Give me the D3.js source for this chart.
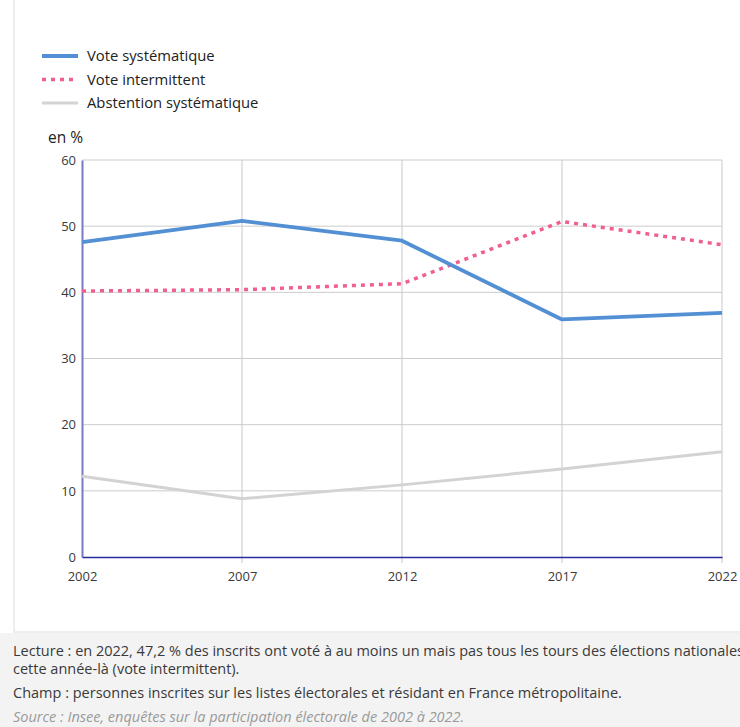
<!DOCTYPE html>
<html>
<head>
<meta charset="utf-8">
<script src="https://cdn.jsdelivr.net/npm/d3@7"></script>
<style>
  body { margin: 0; width: 740px; height: 727px; overflow: hidden; background: #fff; font-family: "Open Sans", sans-serif; }
  .card { position: absolute; left: 13px; top: 0; width: 760px; height: 631px; border-left: 2px solid #eeeeee; border-bottom: 2px solid #eeeeee; background: #fff; }
  .foot { position: absolute; left: 0; top: 633px; width: 740px; height: 94px; background: #f3f3f3; color: #3a3a3a; font-size: 14.5px; white-space: nowrap; overflow: hidden; }
  .foot p { margin: 0; position: absolute; left: 13px; }
  .foot .src { font-style: italic; color: #9a9a9a; }
  svg { position: absolute; left: 0; top: 0; }
</style>
</head>
<body>
<div class="card"></div>
<div class="foot">
  <p style="top:8px">Lecture : en 2022, 47,2 % des inscrits ont voté à au moins un mais pas tous les tours des élections nationales</p>
  <p style="top:26px">cette année-là (vote intermittent).</p>
  <p style="top:50px">Champ : personnes inscrites sur les listes électorales et résidant en France métropolitaine.</p>
  <p class="src" style="top:74px">Source : Insee, enquêtes sur la participation électorale de 2002 à 2022.</p>
</div>
<svg id="chart" width="740" height="630"></svg>
<script>
// data
var years = [2002, 2007, 2012, 2017, 2022];
var voteSystematique = [47.6, 50.8, 47.8, 35.9, 36.9];
var voteIntermittent = [40.2, 40.4, 41.3, 50.7, 47.2];
var abstention = [12.2, 8.8, 10.9, 13.3, 15.9];
var yTicks = [0, 10, 20, 30, 40, 50, 60];

var series = [
  { name: "Abstention systématique", values: abstention, color: "#d3d3d3", width: 3, dash: null },
  { name: "Vote intermittent", values: voteIntermittent, color: "#ef5f8f", width: 3.5, dash: "4,5" },
  { name: "Vote systématique", values: voteSystematique, color: "#5290d3", width: 3.8, dash: null }
];
var legendOrder = [series[2], series[1], series[0]];

var margin = { top: 160, left: 82 };
var width = 640;
var height = 397;

var svg = d3.select("#chart");
var chartGroup = svg.append("g")
  .attr("transform", `translate(${margin.left}, ${margin.top})`);

var x = d3.scalePoint().domain(years).range([0, width]);
var y = d3.scaleLinear().domain([0, 60]).range([height, 0]);

// horizontal grid
chartGroup.append("g")
  .selectAll("line")
  .data(yTicks.slice(1))
  .enter()
  .append("line")
  .attr("x1", 0)
  .attr("x2", width)
  .attr("y1", d => y(d))
  .attr("y2", d => y(d))
  .attr("stroke", "#cccccc")
  .attr("stroke-width", 1);

// vertical grid
chartGroup.append("g")
  .selectAll("line")
  .data(years.slice(1))
  .enter()
  .append("line")
  .attr("x1", d => x(d))
  .attr("x2", d => x(d))
  .attr("y1", 0)
  .attr("y2", height + 6)
  .attr("stroke", "#c8c8c8")
  .attr("stroke-width", 1);

// y axis
var yAxis = chartGroup.append("g")
  .call(d3.axisLeft(y).tickValues(yTicks).tickSize(0).tickPadding(6));
yAxis.select(".domain").attr("stroke", "#7a7ac4").attr("stroke-width", 2);
yAxis.selectAll("text")
  .style("font-family", "Open Sans")
  .style("font-size", "13px")
  .attr("fill", "#3a3a3a");

// x axis
var xAxis = chartGroup.append("g")
  .attr("transform", `translate(0, ${height})`)
  .call(d3.axisBottom(x).tickSize(0).tickPadding(15));
xAxis.select(".domain").attr("stroke", "#2a2aa0").attr("stroke-width", 1.5);
xAxis.selectAll("text")
  .style("font-family", "Open Sans")
  .style("font-size", "13px")
  .attr("fill", "#3a3a3a");

// lines
var line = d3.line()
  .x((d, i) => x(years[i]))
  .y(d => y(d));

chartGroup.selectAll(".series")
  .data(series)
  .enter()
  .append("path")
  .attr("class", "series")
  .attr("d", d => line(d.values))
  .attr("fill", "none")
  .attr("stroke", d => d.color)
  .attr("stroke-width", d => d.width)
  .attr("stroke-dasharray", d => d.dash)
  .attr("stroke-linejoin", "round");

// unit label
svg.append("text")
  .attr("x", 48)
  .attr("y", 143)
  .style("font-family", "Open Sans")
  .style("font-size", "15.5px")
  .attr("fill", "#222")
  .text("en %");

// legend
var legend = svg.append("g");
legendOrder.forEach((s, i) => {
  var ly = 56 + i * 23.5;
  legend.append("line")
    .attr("x1", 42)
    .attr("x2", 78)
    .attr("y1", ly)
    .attr("y2", ly)
    .attr("stroke", s.color)
    .attr("stroke-width", s.width)
    .attr("stroke-dasharray", s.dash);
  legend.append("text")
    .attr("x", 87)
    .attr("y", ly + 5)
    .style("font-family", "Open Sans")
    .style("font-size", "14.8px")
    .attr("fill", "#222")
    .text(s.name);
});
</script>
</body>
</html>
